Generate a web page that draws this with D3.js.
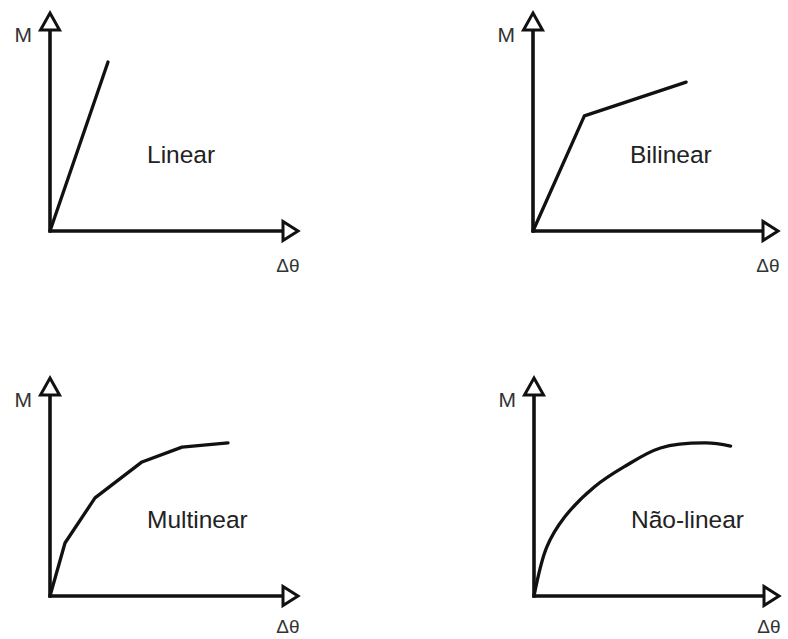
<!DOCTYPE html>
<html>
<head>
<meta charset="utf-8">
<script src="https://cdn.jsdelivr.net/npm/d3@7"></script>
<style>
  html, body { margin: 0; padding: 0; background: #fff; }
  svg { display: block; }
</style>
</head>
<body>
<svg id="chart" width="788" height="639"></svg>
<script>
// ---- data (x: Δθ, y: M, in arbitrary units 0..100) ----
const panelTitles = ["Linear", "Bilinear", "Multinear", "Não-linear"];
const yAxisLabel = "M";
const xAxisLabel = "Δθ";

const linearX = [0, 23.2];
const linearY = [0, 77.5];

const bilinearX = [0, 20.8, 62];
const bilinearY = [0, 52.8, 68.3];

const multilinearX = [0, 6, 18, 36.8, 52.8, 71.2];
const multilinearY = [0, 24.3, 45, 61.5, 68.3, 70.2];

const nonlinearX = [0, 5.2, 12.4, 24.4, 36.4, 51.2, 69.6, 79.6];
const nonlinearY = [0, 22.5, 36.2, 50, 59.2, 67.9, 70.2, 68.8];

// ---- layout ----
const panels = [
  { title: panelTitles[0], xs: linearX, ys: linearY, ox: 50, oy: 231, w: 250, curve: d3.curveLinear },
  { title: panelTitles[1], xs: bilinearX, ys: bilinearY, ox: 533, oy: 231, w: 247, curve: d3.curveLinear },
  { title: panelTitles[2], xs: multilinearX, ys: multilinearY, ox: 50, oy: 596, w: 250, curve: d3.curveLinear },
  { title: panelTitles[3], xs: nonlinearX, ys: nonlinearY, ox: 534, oy: 596, w: 247, curve: d3.curveCatmullRom }
];
const H = 218;
const ink = "#111";
const font = "'Liberation Sans', Arial, Helvetica, sans-serif";

const svg = d3.select("#chart");

panels.forEach(p => {
  const x = d3.scaleLinear().domain([0, 100]).range([p.ox, p.ox + p.w]);
  const y = d3.scaleLinear().domain([0, 100]).range([p.oy, p.oy - H]);
  const g = svg.append("g");

  const x0 = x(0), y0 = y(0), xMax = x(100), yMax = y(100);
  const ah = 17, aw = 9.5; // arrow length / half-width

  // axes lines
  g.append("line").attr("x1", x0).attr("y1", y0 + 1.5).attr("x2", x0).attr("y2", yMax + ah)
    .attr("stroke", ink).attr("stroke-width", 3.6);
  g.append("line").attr("x1", x0 - 1.5).attr("y1", y0).attr("x2", xMax - ah).attr("y2", y0)
    .attr("stroke", ink).attr("stroke-width", 3.6);

  // open triangle arrowheads
  g.append("path")
    .attr("d", `M${x0},${yMax} L${x0 + aw},${yMax + ah} L${x0 - aw},${yMax + ah} Z`)
    .attr("fill", "#fff").attr("stroke", ink).attr("stroke-width", 3).attr("stroke-linejoin", "miter");
  g.append("path")
    .attr("d", `M${xMax - 2},${y0} L${xMax - ah},${y0 - aw} L${xMax - ah},${y0 + aw} Z`)
    .attr("fill", "#fff").attr("stroke", ink).attr("stroke-width", 3).attr("stroke-linejoin", "miter");

  // axis labels
  g.append("text").attr("x", x0 - 18).attr("y", yMax + 29)
    .attr("text-anchor", "end").attr("font-family", font).attr("font-size", 21)
    .attr("fill", "#333").text(yAxisLabel);
  g.append("text").attr("x", xMax - 12).attr("y", Math.min(y0 + 41, 633))
    .attr("text-anchor", "middle").attr("font-family", font).attr("font-size", 19)
    .attr("fill", "#333").text(xAxisLabel);

  // curve
  const pts = p.xs.map((v, i) => [v, p.ys[i]]);
  const line = d3.line().x(d => x(d[0])).y(d => y(d[1])).curve(p.curve);
  g.append("path").datum(pts).attr("d", line)
    .attr("fill", "none").attr("stroke", ink).attr("stroke-width", 3.3)
    .attr("stroke-linejoin", "round").attr("stroke-linecap", "round");

  // title
  g.append("text").attr("x", x0 + 97).attr("y", y0 - 68)
    .attr("font-family", font).attr("font-size", 24.5).attr("fill", "#222")
    .text(p.title);
});
</script>
</body>
</html>
